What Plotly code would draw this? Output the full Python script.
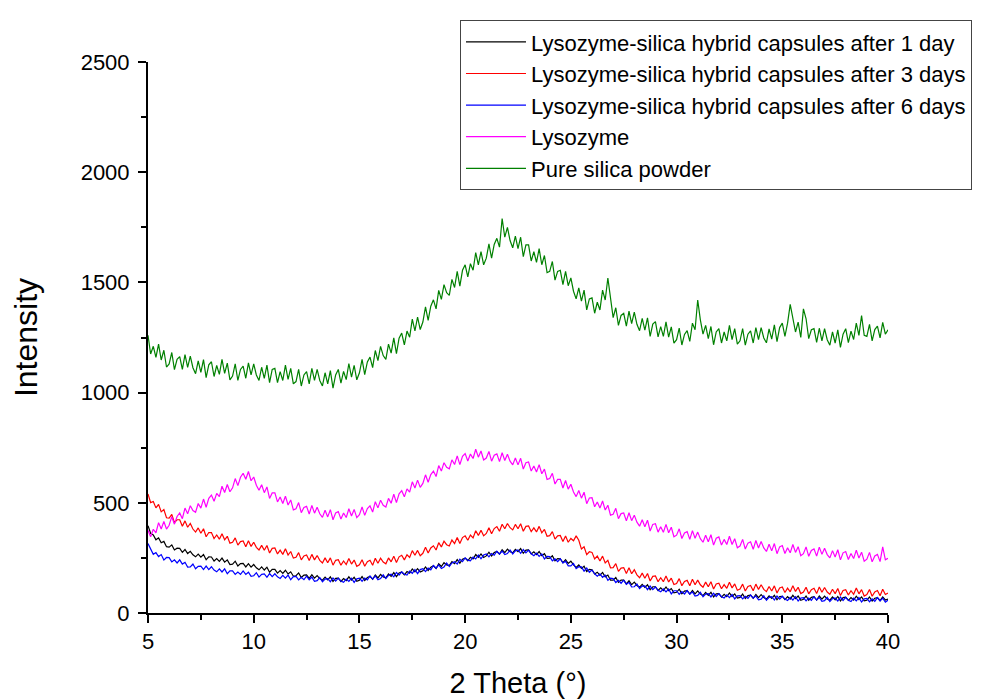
import plotly.graph_objects as go

# 2-theta grid: 5 to 40 degrees, 8 readings per degree (each row below = one degree)
x_start, x_step = 5.0, 0.125

day1 = [
    396, 361, 354, 332, 341, 319, 325, 301,
    299, 309, 286, 294, 293, 275, 288, 270,
    280, 264, 255, 267, 253, 265, 242, 255,
    254, 236, 247, 234, 249, 231, 241, 220,
    222, 235, 213, 224, 225, 209, 224, 208,
    220, 205, 196, 209, 195, 208, 185, 198,
    198, 181, 192, 180, 194, 177, 187, 167,
    169, 182, 161, 172, 173, 157, 174, 158,
    170, 156, 149, 163, 150, 164, 143, 157,
    158, 143, 156, 147, 164, 149, 162, 144,
    149, 165, 147, 161, 166, 153, 172, 159,
    175, 164, 160, 177, 166, 183, 165, 182,
    186, 173, 188, 181, 200, 187, 201, 186,
    192, 209, 193, 208, 214, 202, 223, 211,
    228, 218, 215, 233, 224, 242, 226, 244,
    249, 237, 253, 245, 265, 253, 268, 252,
    259, 276, 259, 274, 279, 267, 287, 274,
    290, 278, 273, 289, 278, 292, 271, 285,
    286, 268, 278, 265, 279, 260, 269, 248,
    249, 260, 237, 247, 246, 228, 242, 225,
    235, 218, 207, 218, 202, 212, 188, 198,
    196, 177, 185, 171, 184, 164, 172, 149,
    149, 161, 139, 149, 149, 132, 146, 129,
    140, 125, 117, 130, 116, 128, 106, 119,
    119, 102, 114, 102, 118, 101, 111, 92,
    94, 108, 87, 99, 101, 86, 102, 87,
    100, 86, 79, 93, 80, 94, 73, 87,
    88, 72, 85, 74, 91, 75, 87, 68,
    71, 86, 66, 79, 81, 67, 84, 70,
    83, 70, 63, 78, 66, 80, 60, 75,
    76, 61, 74, 63, 80, 65, 77, 58,
    62, 77, 58, 71, 74, 59, 77, 63,
    77, 64, 58, 73, 60, 75, 55, 70,
    72, 57, 70, 59, 76, 61, 73, 55,
    58, 73, 54, 67, 70, 56, 73, 59,
    63,
]
day3 = [
    540, 501, 506, 477, 493, 459, 469, 432,
    431, 447, 410, 423, 423, 394, 418, 389,
    406, 381, 367, 386, 362, 382, 346, 365,
    365, 338, 354, 335, 360, 332, 348, 317,
    321, 341, 308, 324, 327, 301, 328, 302,
    321, 298, 286, 307, 285, 306, 272, 293,
    295, 268, 285, 266, 291, 263, 279, 249,
    253, 274, 241, 259, 263, 238, 266, 241,
    261, 239, 227, 250, 228, 250, 217, 239,
    242, 217, 236, 220, 247, 222, 240, 212,
    219, 242, 212, 233, 239, 217, 248, 226,
    249, 231, 223, 250, 232, 258, 229, 255,
    262, 241, 264, 252, 283, 262, 284, 260,
    271, 298, 272, 295, 305, 286, 319, 300,
    326, 310, 304, 331, 315, 343, 315, 342,
    350, 330, 354, 341, 373, 352, 375, 350,
    361, 387, 360, 383, 392, 371, 403, 382,
    406, 387, 377, 402, 382, 405, 371, 393,
    395, 369, 386, 368, 393, 364, 379, 348,
    351, 369, 335, 350, 352, 324, 349, 321,
    338, 328, 350, 330, 290, 300, 265, 278,
    275, 245, 258, 236, 258, 227, 239, 205,
    206, 224, 189, 204, 206, 179, 205, 178,
    196, 173, 160, 181, 158, 179, 145, 166,
    168, 142, 160, 142, 168, 141, 158, 129,
    134, 156, 124, 143, 148, 124, 153, 128,
    149, 128, 117, 140, 119, 142, 109, 132,
    135, 110, 129, 112, 139, 114, 132, 103,
    109, 131, 100, 120, 125, 101, 131, 107,
    128, 107, 97, 120, 100, 123, 91, 114,
    118, 93, 113, 96, 124, 98, 117, 88,
    95, 117, 87, 106, 112, 88, 118, 94,
    116, 95, 85, 108, 88, 111, 79, 102,
    106, 82, 101, 85, 113, 87, 106, 77,
    84, 107, 76, 96, 102, 78, 108, 84,
    90,
]
day6 = [
    315, 287, 266, 274, 256, 265, 240, 252,
    251, 232, 241, 227, 241, 222, 230, 208,
    209, 222, 201, 212, 213, 197, 213, 197,
    210, 195, 187, 200, 186, 200, 178, 191,
    191, 175, 186, 175, 191, 175, 185, 166,
    169, 183, 163, 175, 177, 162, 179, 165,
    178, 164, 157, 171, 158, 172, 151, 165,
    166, 150, 162, 151, 167, 151, 163, 144,
    147, 161, 142, 154, 156, 142, 159, 145,
    158, 145, 139, 154, 143, 158, 139, 155,
    158, 144, 159, 150, 168, 154, 168, 151,
    156, 173, 156, 171, 176, 164, 184, 172,
    187, 176, 172, 190, 180, 197, 179, 197,
    201, 188, 204, 196, 216, 203, 218, 202,
    209, 227, 211, 227, 233, 222, 244, 233,
    250, 240, 237, 254, 245, 263, 246, 263,
    268, 255, 270, 262, 280, 267, 281, 265,
    270, 286, 268, 282, 286, 271, 288, 273,
    285, 269, 260, 272, 257, 268, 245, 257,
    256, 237, 246, 233, 246, 227, 235, 214,
    214, 225, 201, 210, 209, 190, 204, 185,
    195, 178, 167, 178, 162, 172, 148, 158,
    156, 138, 148, 135, 149, 130, 139, 118,
    119, 132, 111, 122, 123, 106, 122, 106,
    118, 103, 96, 109, 96, 109, 87, 101,
    101, 85, 97, 86, 102, 86, 96, 77,
    80, 94, 74, 86, 88, 73, 90, 75,
    88, 74, 68, 82, 70, 84, 64, 78,
    79, 64, 76, 66, 82, 67, 78, 60,
    63, 78, 58, 71, 74, 59, 77, 63,
    76, 63, 57, 71, 59, 74, 54, 68,
    70, 55, 68, 57, 74, 59, 71, 53,
    56, 71, 52, 65, 68, 54, 72, 57,
    71, 58, 52, 67, 55, 70, 50, 64,
    66, 51, 64, 53, 70, 55, 67, 49,
    58,
]
lysozyme = [
    375, 346, 380, 364, 410, 381, 415, 381,
    398, 437, 403, 438, 454, 428, 476, 450,
    487, 465, 457, 497, 476, 517, 480, 520,
    535, 507, 543, 528, 575, 547, 583, 550,
    568, 610, 578, 616, 634, 607, 642, 600,
    617, 580, 557, 582, 546, 572, 520, 545,
    545, 504, 526, 497, 530, 490, 513, 468,
    473, 501, 455, 479, 484, 449, 488, 453,
    480, 450, 434, 466, 436, 469, 423, 454,
    460, 426, 454, 433, 473, 440, 470, 433,
    446, 481, 443, 474, 486, 458, 505, 477,
    512, 489, 481, 520, 498, 539, 501, 541,
    555, 527, 563, 548, 595, 567, 603, 570,
    588, 627, 593, 628, 644, 619, 669, 644,
    682, 661, 654, 695, 674, 713, 673, 711,
    723, 690, 721, 701, 743, 707, 735, 694,
    703, 733, 689, 716, 722, 687, 727, 692,
    720, 689, 672, 703, 672, 702, 653, 682,
    685, 644, 667, 640, 673, 632, 653, 606,
    610, 634, 585, 606, 606, 567, 601, 562,
    584, 549, 528, 556, 521, 548, 496, 522,
    523, 482, 504, 476, 508, 467, 489, 444,
    448, 475, 428, 451, 454, 418, 455, 419,
    444, 412, 394, 423, 391, 421, 372, 402,
    405, 367, 391, 366, 402, 364, 389, 346,
    353, 382, 338, 363, 369, 334, 374, 339,
    367, 337, 321, 353, 323, 355, 308, 339,
    345, 308, 334, 311, 348, 311, 337, 296,
    304, 334, 290, 317, 323, 289, 329, 295,
    324, 295, 279, 312, 282, 315, 269, 300,
    306, 270, 296, 273, 311, 275, 301, 260,
    269, 300, 257, 284, 291, 258, 299, 266,
    294, 265, 250, 283, 254, 287, 241, 273,
    279, 243, 270, 247, 285, 249, 276, 235,
    244, 275, 232, 259, 266, 233, 300, 241,
    248,
]
silica = [
    1260, 1175, 1210, 1160, 1220, 1148, 1192, 1116,
    1130, 1182, 1104, 1151, 1163, 1105, 1172, 1114,
    1165, 1113, 1086, 1144, 1092, 1150, 1068, 1126,
    1140, 1073, 1123, 1083, 1151, 1087, 1134, 1058,
    1075, 1130, 1055, 1105, 1120, 1065, 1135, 1080,
    1130, 1080, 1055, 1115, 1065, 1125, 1045, 1105,
    1110, 1045, 1095, 1055, 1125, 1060, 1110, 1040,
    1050, 1105, 1030, 1080, 1095, 1040, 1110, 1055,
    1105, 1055, 1030, 1090, 1040, 1100, 1020, 1080,
    1105, 1043, 1096, 1059, 1132, 1070, 1124, 1058,
    1090, 1151, 1082, 1139, 1161, 1113, 1191, 1145,
    1210, 1168, 1151, 1220, 1179, 1248, 1177, 1247,
    1270, 1217, 1279, 1251, 1333, 1280, 1343, 1286,
    1320, 1389, 1328, 1392, 1421, 1380, 1464, 1423,
    1490, 1453, 1441, 1514, 1477, 1550, 1483, 1555,
    1580, 1525, 1585, 1555, 1635, 1580, 1640, 1580,
    1610, 1675, 1610, 1672, 1700, 1660, 1790, 1705,
    1750, 1690, 1657, 1710, 1653, 1705, 1617, 1670,
    1670, 1597, 1639, 1591, 1653, 1580, 1622, 1544,
    1550, 1595, 1510, 1550, 1555, 1490, 1550, 1485,
    1520, 1460, 1425, 1475, 1415, 1465, 1375, 1425,
    1430, 1360, 1410, 1375, 1465, 1420, 1520, 1440,
    1340, 1385, 1305, 1350, 1360, 1302, 1370, 1313,
    1365, 1310, 1281, 1337, 1283, 1339, 1255, 1311,
    1322, 1253, 1299, 1255, 1321, 1252, 1298, 1224,
    1240, 1293, 1216, 1264, 1281, 1232, 1315, 1285,
    1420, 1330, 1265, 1305, 1245, 1300, 1217, 1275,
    1290, 1225, 1275, 1235, 1305, 1240, 1290, 1220,
    1235, 1290, 1215, 1265, 1280, 1225, 1295, 1240,
    1295, 1248, 1226, 1289, 1243, 1307, 1231, 1295,
    1315, 1255, 1315, 1400, 1345, 1275, 1320, 1250,
    1380, 1335, 1245, 1285, 1290, 1228, 1292, 1235,
    1290, 1240, 1215, 1275, 1225, 1285, 1205, 1265,
    1290, 1227, 1279, 1241, 1315, 1260, 1350, 1260,
    1255, 1310, 1235, 1286, 1302, 1248, 1319, 1265,
    1285,
]

names = [
    "Lysozyme-silica hybrid capsules after 1 day",
    "Lysozyme-silica hybrid capsules after 3 days",
    "Lysozyme-silica hybrid capsules after 6 days",
    "Lysozyme",
    "Pure silica powder",
]
colors = ["#000000", "#ff0000", "#0000ff", "#ff00ff", "#008000"]
series = [day1, day3, day6, lysozyme, silica]

x_tick_vals = [5, 10, 15, 20, 25, 30, 35, 40]
y_tick_vals = [0, 500, 1000, 1500, 2000, 2500]

fig = go.Figure()
for name, col, ys in zip(names, colors, series):
    xs = [x_start + x_step * i for i in range(len(ys))]
    fig.add_trace(go.Scatter(x=xs, y=ys, mode="lines", name=name,
                             line=dict(color=col, width=1.2)))

font = "Liberation Sans, Arial, sans-serif"
axis_common = dict(
    showline=True, linecolor="black", linewidth=2,
    ticks="outside", ticklen=8, tickwidth=2, tickcolor="black",
    showgrid=False, zeroline=False, mirror=False, automargin=False,
    tickfont=dict(family=font, size=22, color="black"),
)
fig.update_layout(
    width=989, height=691,
    margin=dict(l=140, r=109, t=52, b=86),
    paper_bgcolor="white", plot_bgcolor="white",
    font=dict(family=font, color="black"),
    xaxis=dict(range=[5, 40], tickvals=x_tick_vals,
               minor=dict(dtick=2.5, ticks="outside", ticklen=5, tickwidth=2, tickcolor="black"),
               title=dict(text="2 Theta (°)", font=dict(family=font, size=29), standoff=23),
               **axis_common),
    yaxis=dict(range=[0, 2500], tickvals=y_tick_vals, ticklabelstandoff=4,
               minor=dict(dtick=250, ticks="outside", ticklen=5, tickwidth=2, tickcolor="black"),
               title=dict(text="Intensity", font=dict(family=font, size=32), standoff=40),
               **axis_common),
    legend=dict(x=0.4216, y=1.076, xanchor="left", yanchor="top",
                bgcolor="white", bordercolor="#444444", borderwidth=1,
                font=dict(family=font, size=22, color="black"),
                tracegroupgap=0, itemwidth=60),
    showlegend=True,
)
fig.write_html("out.html")
